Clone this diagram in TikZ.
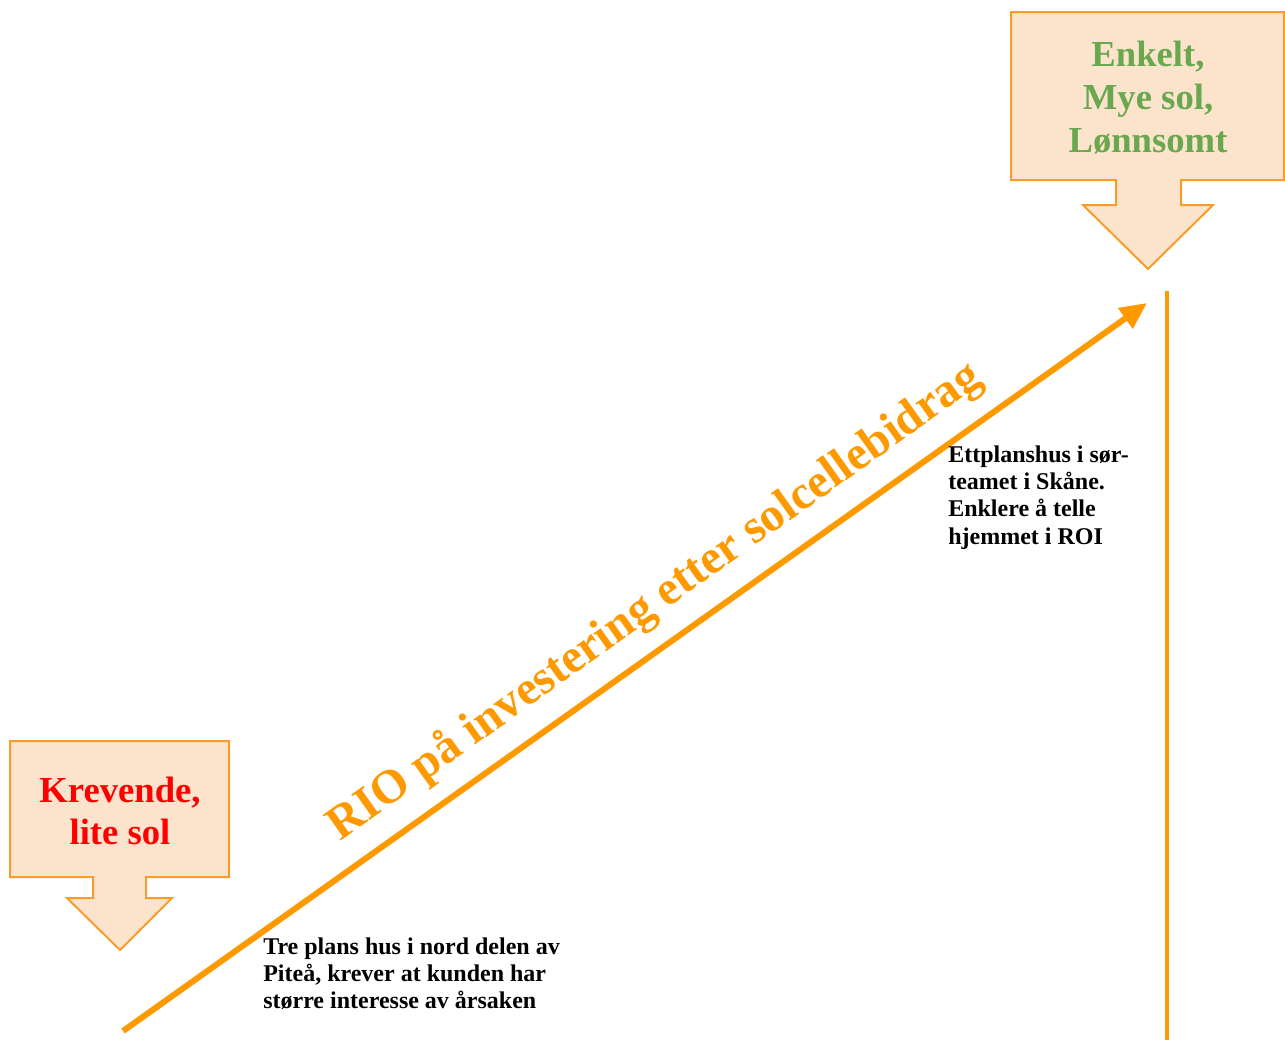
\documentclass[tikz,border=0pt]{standalone}
\usepackage{fontspec}
\setmainfont{Liberation Serif}
\usetikzlibrary{arrows.meta}
\definecolor{lineorange}{HTML}{FF9900}
\definecolor{boxorange}{HTML}{F99D2A}
\definecolor{boxfill}{HTML}{FCE4CC}
\definecolor{txtgreen}{HTML}{6AA84F}
\definecolor{txtred}{HTML}{FF0000}
\tikzset{
  callout/.style={draw=boxorange, fill=boxfill, line width=1.5pt, line join=miter},
  bigtxt/.style={inner sep=0pt, anchor=base, font=\bfseries\fontsize{27.5}{31.5}\selectfont},
  smalltxt/.style={inner sep=0pt, anchor=base west, font=\bfseries\fontsize{18}{20.5}\selectfont},
  mainline/.style={draw=lineorange, line width=4.5pt, -{Triangle[length=20pt,width=18pt]}},
  vline/.style={draw=lineorange, line width=3pt}
}
\begin{document}
\begin{tikzpicture}[x=0.75pt,y=-0.75pt]
\useasboundingbox (0,0) rectangle (1285,1040);
% top-right callout
\path[callout] (1011,12) -- (1284,12) -- (1284,180) -- (1181,180) -- (1181,205) -- (1213,205)
  -- (1148,269) -- (1083,205) -- (1116,205) -- (1116,180) -- (1011,180) -- cycle;
\node[bigtxt, text=txtgreen] (good) at (1148,66)
  {\begin{tabular}[t]{@{}c@{}}Enkelt,\\[1pt] Mye sol,\\[1pt] Lønnsomt\end{tabular}};
% bottom-left callout
\path[callout] (10,741) -- (229,741) -- (229,877) -- (146,877) -- (146,898) -- (172,898)
  -- (120,950) -- (67,898) -- (93,898) -- (93,877) -- (10,877) -- cycle;
\node[bigtxt, text=txtred] (bad) at (120,802)
  {\begin{tabular}[t]{@{}c@{}}Krevende,\\ lite sol\end{tabular}};
% main arrow
\coordinate (start) at (123,1031);
\coordinate (tip) at (1147,303);
\draw[mainline] (start) -- (tip);
% vertical line
\coordinate (vtop) at (1167,291);
\coordinate (vbot) at (1167,1040);
\draw[vline] (vtop) -- (vbot);
% rotated label
\node[inner sep=0pt, anchor=base, rotate=35.5, text=lineorange,
  font=\bfseries\fontsize{35.8}{40}\selectfont] (rio) at (662,612)
  {RIO på investering etter solcellebidrag};
% texts
\node[smalltxt] (north) at (263,954)
  {\begin{tabular}[t]{@{}l@{}}Tre plans hus i nord delen av\\ Piteå, krever at kunden har\\ større interesse av årsaken\end{tabular}};
\node[smalltxt] (south) at (948,462)
  {\begin{tabular}[t]{@{}l@{}}Ettplanshus i sør-\\ teamet i Skåne.\\ Enklere å telle\\ hjemmet i ROI\end{tabular}};
\end{tikzpicture}
\end{document}
